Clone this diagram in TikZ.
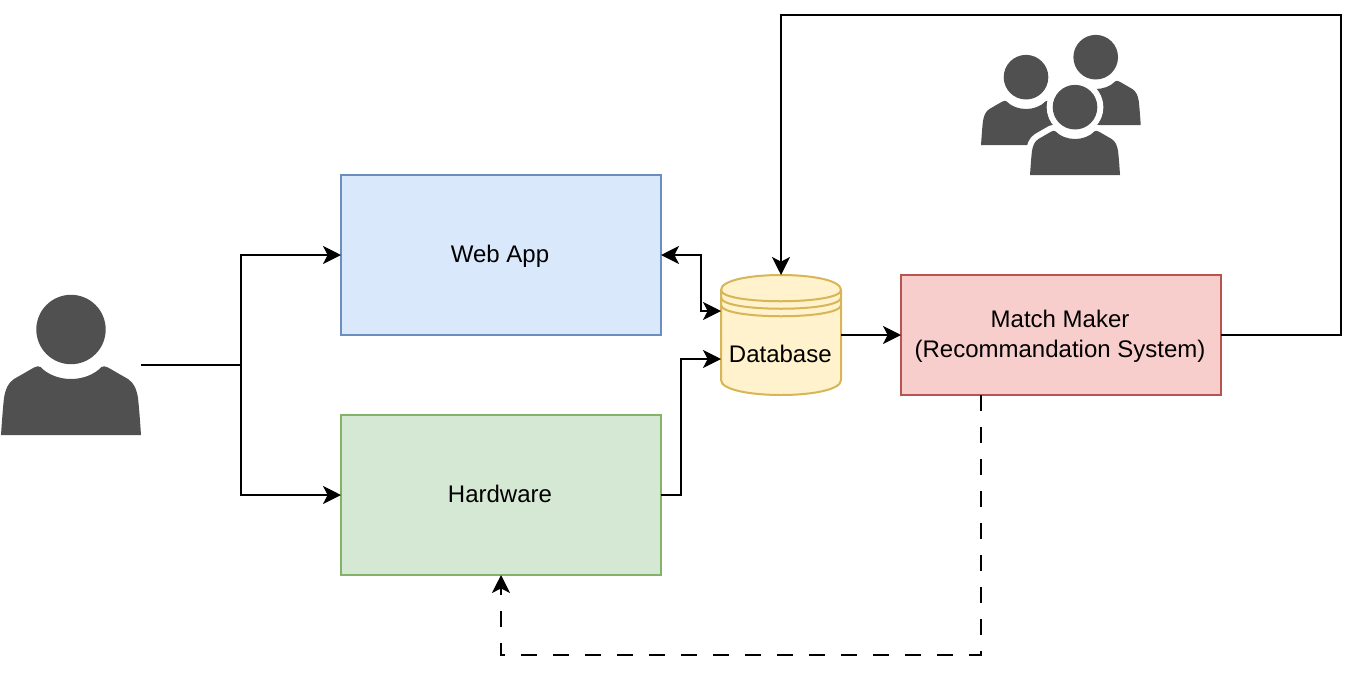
\documentclass[tikz,border=0pt]{standalone}
\usepackage{fontspec}
\setmainfont{Liberation Sans}
\usetikzlibrary{arrows.meta,calc}
\definecolor{iconc}{HTML}{505050}
\definecolor{webf}{HTML}{DAE8FC}\definecolor{webd}{HTML}{6C8EBF}
\definecolor{hwf}{HTML}{D5E8D4}\definecolor{hwd}{HTML}{82B366}
\definecolor{dbf}{HTML}{FFF2CC}\definecolor{dbd}{HTML}{D6B656}
\definecolor{mmf}{HTML}{F8CECC}\definecolor{mmd}{HTML}{B85450}
\newcommand{\lineprop}{\rule[-3pt]{0pt}{17.7pt}\kern-1.5pt}
\newcommand{\personpath}{%
 (70,34.5) circle[radius=34.7]
 (0,140) .. controls (1,125) and (2,112) .. (3,103)
 .. controls (4.5,94) and (7,88) .. (13,84)
 -- (33,72.5) .. controls (36,71) and (38,71) .. (39.5,72)
 .. controls (47,80) and (59,84) .. (70,84)
 .. controls (81,84) and (93,80) .. (100.5,72)
 .. controls (102,71) and (104,71) .. (107,72.5)
 -- (127,84) .. controls (133,88) and (135.5,94) .. (137,103)
 .. controls (138,112) and (139,125) .. (140,140) -- cycle}
\tikzset{
 x=0.75pt,y=-0.75pt,
 every node/.style={font=\fontsize{18}{22.5}\selectfont,align=center,inner sep=0pt,outer sep=0pt},
 conn/.style={line width=1.5pt,draw=black},
 tip/.style={-{Stealth[length=13.5pt,width=13.5pt,inset=3.5pt]}},
 twotip/.style={{Stealth[length=13.5pt,width=13.5pt,inset=3.5pt]}-{Stealth[length=13.5pt,width=13.5pt,inset=3.5pt]}},
 dashline/.style={dash pattern=on 12pt off 12pt},
 boxn/.style={draw,line width=1.5pt,minimum width=240pt},
 anchorbox/.style={minimum width=#1,minimum height=#1},
}
\begin{document}
\begin{tikzpicture}
\useasboundingbox (0,0) rectangle (1358,672);
% user icon
\node[anchorbox=105pt] (user) at (71,365) {};
\begin{scope}[shift={(1,295)}]
\fill[iconc] \personpath;
\end{scope}
% group icon
\node[minimum width=120pt,minimum height=105pt] (group) at (1061,105) {};
\begin{scope}[shift={(1050.7,35)},scale=0.643]
\fill[iconc] \personpath;
\end{scope}
\begin{scope}[shift={(981,55)},scale=0.643]
\fill[iconc] \personpath;
\end{scope}
\begin{scope}[shift={(1030,85)},scale=0.643]
\draw[white,line width=9pt,line join=round] \personpath;
\fill[iconc] \personpath;
\end{scope}
% boxes
\node[boxn,minimum height=120pt,draw=webd,fill=webf] (web) at (501,255) {\lineprop Web App};
\node[boxn,minimum height=120pt,draw=hwd,fill=hwf] (hw) at (501,495) {\lineprop Hardware};
\node[boxn,minimum height=90pt,draw=mmd,fill=mmf] (mm) at (1061,335) {\lineprop Match Maker\\\lineprop (Recommandation System)};
% database
\draw[line width=1.5pt,draw=dbd,fill=dbf]
 (721,290) .. controls (721,270) and (841,270) .. (841,290)
 -- (841,380) .. controls (841,400) and (721,400) .. (721,380) -- cycle;
\draw[line width=1.5pt,draw=dbd]
 (721,290) .. controls (721,305) and (841,305) .. (841,290)
 (721,297.5) .. controls (721,312.5) and (841,312.5) .. (841,297.5)
 (721,305) .. controls (721,320) and (841,320) .. (841,305);
\node[minimum width=90pt,minimum height=90pt] (db) at (781,335) {};
\node (dblabel) at (780.3,354) {Database};
\coordinate (dbA) at (721,311);
\coordinate (dbB) at (721,359);
\coordinate (split) at (241,365);
\coordinate (topL) at (781,15);
\coordinate (topR) at (1341,15);
\coordinate (midR) at (1341,335);
\coordinate (dashA) at (981,395);
\coordinate (dashB) at (981,655);
\coordinate (dashC) at (501,655);
\coordinate (wd) at (701,255);
\coordinate (hd) at (681,495);
% connectors
\draw[conn] (user.east) -- (split);
\draw[conn,tip] (split) |- (web.west);
\draw[conn,tip] (split) |- (hw.west);
\draw[conn,twotip] (web.east) -- (wd) |- (dbA);
\draw[conn,tip] (hw.east) -- (hd) |- (dbB);
\draw[conn,tip] (db.east) -- (mm.west);
\draw[conn,tip] (mm.east) -- (midR) -- (topR) -- (topL) -- (db.north);
\draw[conn,tip,dashline] (dashA) -- (dashB) -- (dashC) -- (hw.south);
\end{tikzpicture}
\end{document}
